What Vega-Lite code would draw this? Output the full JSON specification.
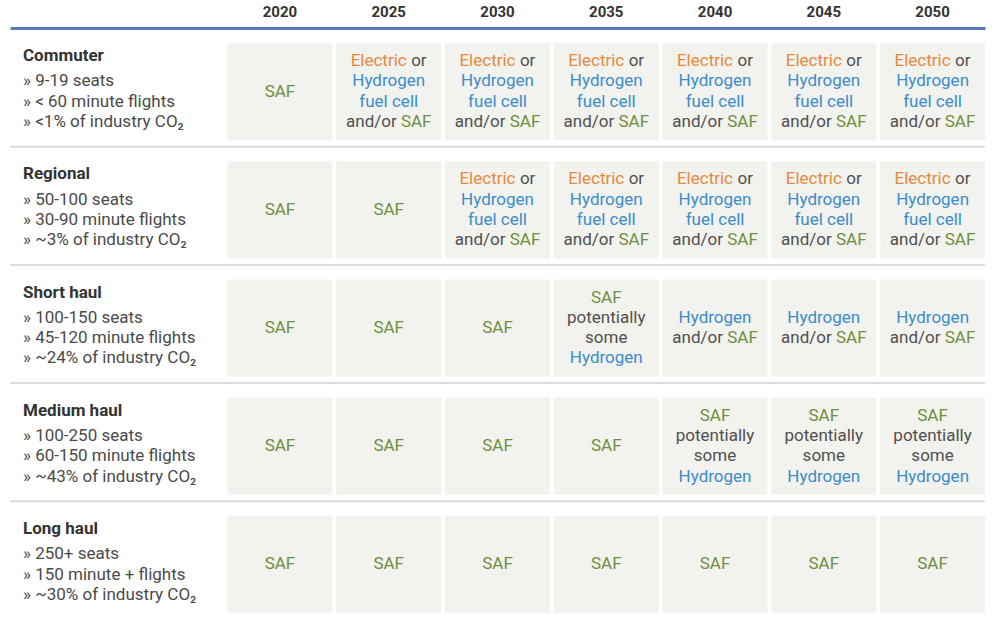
{
  "$schema": "https://vega.github.io/schema/vega-lite/v6.json",
  "width": 975,
  "height": 570,
  "autosize": {"type": "none"},
  "padding": {"left": 10, "top": 43, "right": 15, "bottom": 12},
  "background": "white",
  "config": {"view": {"stroke": null}, "font": "Roboto"},
  "resolve": {"scale": {"yOffset": "independent"}},
  "datasets": {
    "cells": [
      {"row": "Commuter", "year": "2020", "kind": "SAF"},
      {"row": "Commuter", "year": "2025", "kind": "EH"},
      {"row": "Commuter", "year": "2030", "kind": "EH"},
      {"row": "Commuter", "year": "2035", "kind": "EH"},
      {"row": "Commuter", "year": "2040", "kind": "EH"},
      {"row": "Commuter", "year": "2045", "kind": "EH"},
      {"row": "Commuter", "year": "2050", "kind": "EH"},
      {"row": "Regional", "year": "2020", "kind": "SAF"},
      {"row": "Regional", "year": "2025", "kind": "SAF"},
      {"row": "Regional", "year": "2030", "kind": "EH"},
      {"row": "Regional", "year": "2035", "kind": "EH"},
      {"row": "Regional", "year": "2040", "kind": "EH"},
      {"row": "Regional", "year": "2045", "kind": "EH"},
      {"row": "Regional", "year": "2050", "kind": "EH"},
      {"row": "Short haul", "year": "2020", "kind": "SAF"},
      {"row": "Short haul", "year": "2025", "kind": "SAF"},
      {"row": "Short haul", "year": "2030", "kind": "SAF"},
      {"row": "Short haul", "year": "2035", "kind": "SPH"},
      {"row": "Short haul", "year": "2040", "kind": "HS"},
      {"row": "Short haul", "year": "2045", "kind": "HS"},
      {"row": "Short haul", "year": "2050", "kind": "HS"},
      {"row": "Medium haul", "year": "2020", "kind": "SAF"},
      {"row": "Medium haul", "year": "2025", "kind": "SAF"},
      {"row": "Medium haul", "year": "2030", "kind": "SAF"},
      {"row": "Medium haul", "year": "2035", "kind": "SAF"},
      {"row": "Medium haul", "year": "2040", "kind": "SPH"},
      {"row": "Medium haul", "year": "2045", "kind": "SPH"},
      {"row": "Medium haul", "year": "2050", "kind": "SPH"},
      {"row": "Long haul", "year": "2020", "kind": "SAF"},
      {"row": "Long haul", "year": "2025", "kind": "SAF"},
      {"row": "Long haul", "year": "2030", "kind": "SAF"},
      {"row": "Long haul", "year": "2035", "kind": "SAF"},
      {"row": "Long haul", "year": "2040", "kind": "SAF"},
      {"row": "Long haul", "year": "2045", "kind": "SAF"},
      {"row": "Long haul", "year": "2050", "kind": "SAF"}
    ],
    "kinds": [
      {"kind": "SAF", "n": 1, "text": ["SAF"], "tone": ["SAF"], "line": [0], "part": ["c"]},
      {"kind": "EH", "n": 4, "text": ["Electric", "or", "Hydrogen", "fuel cell", "and/or", "SAF"], "tone": ["Electric", "other", "Hydrogen", "Hydrogen", "other", "SAF"], "line": [0, 0, 1, 2, 3, 3], "part": ["eL", "eR", "c", "c", "aL", "aR"]},
      {"kind": "HS", "n": 2, "text": ["Hydrogen", "and/or", "SAF"], "tone": ["Hydrogen", "other", "SAF"], "line": [0, 1, 1], "part": ["c", "aL", "aR"]},
      {"kind": "SPH", "n": 4, "text": ["SAF", "potentially", "some", "Hydrogen"], "tone": ["SAF", "other", "other", "Hydrogen"], "line": [0, 1, 2, 3], "part": ["c", "c", "c", "c"]}
    ],
    "labels": [
      {"row": "Commuter", "text": ["Commuter", "» 9-19 seats", "» < 60 minute flights", "» <1% of industry CO₂"], "kind": ["t", "b", "b", "b"], "line": [0, 1, 2, 3]},
      {"row": "Regional", "text": ["Regional", "» 50-100 seats", "» 30-90 minute flights", "» ~3% of industry CO₂"], "kind": ["t", "b", "b", "b"], "line": [0, 1, 2, 3]},
      {"row": "Short haul", "text": ["Short haul", "» 100-150 seats", "» 45-120 minute flights", "» ~24% of industry CO₂"], "kind": ["t", "b", "b", "b"], "line": [0, 1, 2, 3]},
      {"row": "Medium haul", "text": ["Medium haul", "» 100-250 seats", "» 60-150 minute flights", "» ~43% of industry CO₂"], "kind": ["t", "b", "b", "b"], "line": [0, 1, 2, 3]},
      {"row": "Long haul", "text": ["Long haul", "» 250+ seats", "» 150 minute + flights", "» ~30% of industry CO₂"], "kind": ["t", "b", "b", "b"], "line": [0, 1, 2, 3]}
    ]
  },
  "encoding": {
    "x": {
      "field": "year",
      "type": "nominal",
      "scale": {"domain": ["L1", "L2", "2020", "2025", "2030", "2035", "2040", "2045", "2050"], "paddingInner": 0.036, "paddingOuter": 0},
      "axis": {
        "orient": "top",
        "title": null,
        "offset": 15,
        "ticks": false,
        "tickSize": 0,
        "labelPadding": 9,
        "labelAngle": 0,
        "labelFont": "Roboto",
        "labelFontSize": 15,
        "labelFontWeight": "bold",
        "labelColor": "#333333",
        "labelExpr": "datum.value[0] === 'L' ? '' : datum.value",
        "domainColor": "#5b78bd",
        "domainWidth": 3,
        "grid": false
      }
    },
    "y": {
      "field": "row",
      "type": "nominal",
      "scale": {"domain": ["Commuter", "Regional", "Short haul", "Medium haul", "Long haul"], "paddingInner": 0.1776, "paddingOuter": 0},
      "axis": null
    }
  },
  "layer": [
    {
      "data": {"name": "cells"},
      "mark": {"type": "rect", "fill": "#f2f2ef"}
    },
    {
      "data": {"name": "labels"},
      "transform": [{"filter": "datum.row !== 'Long haul'"}],
      "mark": {"type": "rule", "stroke": "#dcdcdc", "strokeWidth": 2, "yOffset": 6.5},
      "encoding": {
        "x": null,
        "y": {"field": "row", "type": "nominal", "bandPosition": 1}
      }
    },
    {
      "data": {"name": "cells"},
      "transform": [
        {"lookup": "kind", "from": {"data": {"name": "kinds"}, "key": "kind", "fields": ["n", "text", "tone", "line", "part"]}},
        {"flatten": ["text", "tone", "line", "part"]},
        {"calculate": "datum.line - (datum.n - 1) / 2", "as": "pos"}
      ],
      "encoding": {
        "yOffset": {"field": "pos", "type": "quantitative", "scale": {"domain": [-2.4, 2.4]}},
        "text": {"field": "text"},
        "color": {
          "field": "tone",
          "type": "nominal",
          "scale": {"domain": ["Electric", "Hydrogen", "SAF", "other"], "range": ["#e8893b", "#3b8dcb", "#6e8f3c", "#505050"]},
          "legend": null
        }
      },
      "layer": [
        {"transform": [{"filter": "datum.part === 'c'"}], "mark": {"type": "text", "align": "center", "baseline": "middle", "fontSize": 17, "font": "Roboto"}},
        {"transform": [{"filter": "datum.part === 'eL'"}], "mark": {"type": "text", "align": "right", "baseline": "middle", "fontSize": 17, "font": "Roboto", "dx": 18}},
        {"transform": [{"filter": "datum.part === 'eR'"}], "mark": {"type": "text", "align": "left", "baseline": "middle", "fontSize": 17, "font": "Roboto", "dx": 22.4}},
        {"transform": [{"filter": "datum.part === 'aL'"}], "mark": {"type": "text", "align": "right", "baseline": "middle", "fontSize": 17, "font": "Roboto", "dx": 8}},
        {"transform": [{"filter": "datum.part === 'aR'"}], "mark": {"type": "text", "align": "left", "baseline": "middle", "fontSize": 17, "font": "Roboto", "dx": 12.2}}
      ]
    },
    {
      "data": {"name": "labels"},
      "transform": [
        {"flatten": ["text", "kind", "line"]},
        {"calculate": "datum.line - 1.5", "as": "pos"}
      ],
      "encoding": {
        "x": {"datum": "L1", "type": "nominal", "bandPosition": 0},
        "yOffset": {"field": "pos", "type": "quantitative", "scale": {"domain": [-2.4, 2.4]}},
        "text": {"field": "text"}
      },
      "layer": [
        {"transform": [{"filter": "datum.kind === 't'"}], "mark": {"type": "text", "align": "left", "baseline": "middle", "fontSize": 17, "font": "Roboto", "fontWeight": "bold", "color": "#333333", "dx": 13, "dy": -5}},
        {"transform": [{"filter": "datum.kind === 'b'"}], "mark": {"type": "text", "align": "left", "baseline": "middle", "fontSize": 17, "font": "Roboto", "color": "#4a4a4a", "dx": 13}}
      ]
    }
  ]
}
